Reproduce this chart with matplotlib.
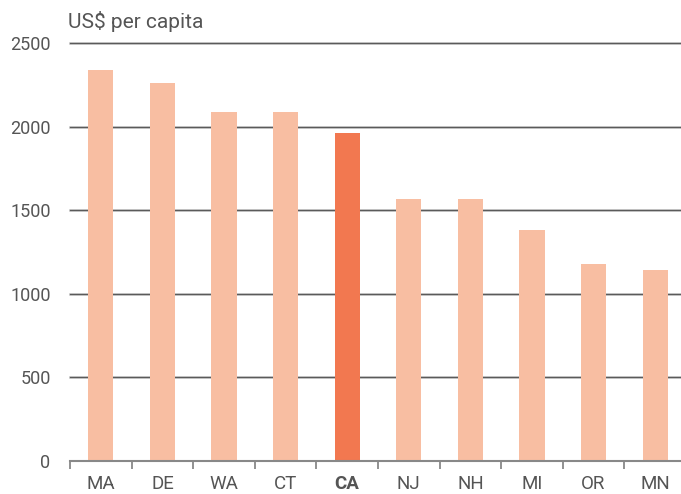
import matplotlib
matplotlib.use("Agg")
import matplotlib.pyplot as plt

states = ["MA", "DE", "WA", "CT", "CA", "NJ", "NH", "MI", "OR", "MN"]
values = [2338, 2261, 2087, 2087, 1962, 1567, 1567, 1382, 1178, 1142]
highlight = "CA"
yticks = [0, 500, 1000, 1500, 2000, 2500]

light = "#F8BEA2"
dark = "#F27850"
text_col = "#555555"

plt.rcParams['font.family'] = ['Roboto', 'DejaVu Sans']

fig = plt.figure(figsize=(6.81, 4.94), dpi=100)
ax = fig.add_axes([70/681, 1 - 461/494, 1 - 70/681, (461 - 43)/494])

x = list(range(len(states)))
colors = [dark if s == highlight else light for s in states]

for t in yticks[1:]:
    ax.axhline(t, color="#d6d6d6", lw=2.0, zorder=1, clip_on=False)
    ax.axhline(t, color="#5a5a5a", lw=1.0, zorder=1.5, clip_on=False)

ax.bar(x, values, width=0.41, color=colors, zorder=2)

ax.set_xlim(-0.5, 9.42)
ax.set_ylim(0, 2500)

for s in ["top", "right", "left"]:
    ax.spines[s].set_visible(False)
ax.spines["bottom"].set_color("#888888")
ax.spines["bottom"].set_linewidth(1.5)
ax.spines["bottom"].set_zorder(3)

ax.set_xticks([i - 0.5 for i in range(len(states))])
ax.set_xticklabels([])
ax.tick_params(axis="x", which="major", length=6, width=1.3, color="#888888", direction="out")
ax.set_xticks(x, minor=True)
ax.set_xticklabels(states, minor=True)
ax.tick_params(axis="x", which="minor", length=0, pad=10, labelsize=13.5, labelcolor=text_col)
for lbl in ax.get_xticklabels(minor=True):
    if lbl.get_text() == highlight:
        lbl.set_fontweight("bold")

ax.set_yticks(yticks)
ax.set_yticklabels([str(t) for t in yticks])
ax.tick_params(axis="y", length=0, pad=14, labelsize=13, labelcolor=text_col)

fig.text(68/681, 1 - 21/494, "US$ per capita", fontsize=15, color=text_col,
         ha="left", va="center")

fig.savefig("out.png", dpi=100)
